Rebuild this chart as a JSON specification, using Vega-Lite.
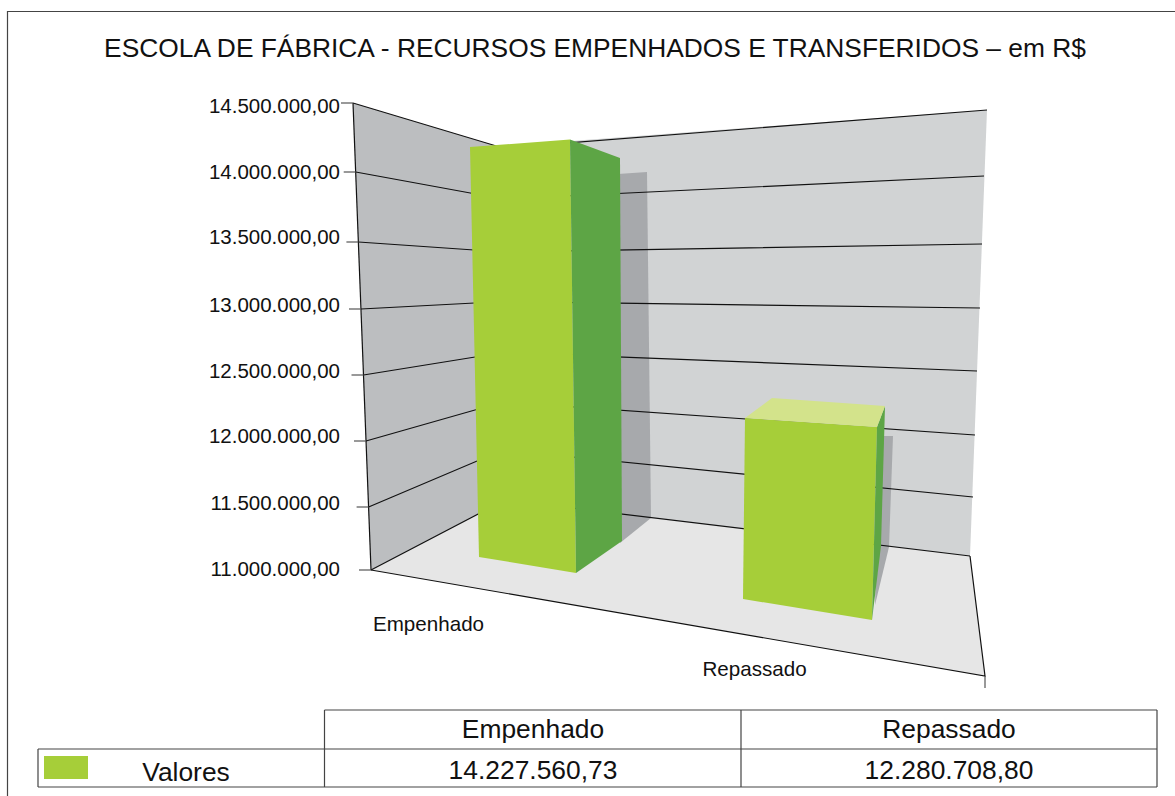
{
"$schema":"https://vega.github.io/schema/vega-lite/v6.json",
"width":1175,"height":796,"padding":0,
"autosize":"none",
"background":"#ffffff",
"config":{"view":{"stroke":null}},
"resolve":{"scale":{"fill":"independent"}},
"datasets":{
"planes":[
{"part":"left wall","seq":1,"x":353,"y":103},{"part":"left wall","seq":2,"x":503,"y":148},{"part":"left wall","seq":3,"x":505,"y":500},{"part":"left wall","seq":4,"x":371,"y":570},
{"part":"back wall","seq":1,"x":503,"y":146},{"part":"back wall","seq":2,"x":987,"y":110},{"part":"back wall","seq":3,"x":970,"y":556},{"part":"back wall","seq":4,"x":505,"y":500},
{"part":"floor","seq":1,"x":371,"y":570},{"part":"floor","seq":2,"x":505,"y":500},{"part":"floor","seq":3,"x":970,"y":556},{"part":"floor","seq":4,"x":985,"y":676}
],
"grid":[
{"level":"14.500.000,00","seq":1,"x":353,"y":103},{"level":"14.500.000,00","seq":2,"x":503,"y":148},{"level":"14.500.000,00","seq":3,"x":987,"y":110},
{"level":"14.000.000,00","seq":1,"x":355.7,"y":172},{"level":"14.000.000,00","seq":2,"x":503,"y":199},{"level":"14.000.000,00","seq":3,"x":984,"y":176},
{"level":"13.500.000,00","seq":1,"x":358.4,"y":242},{"level":"13.500.000,00","seq":2,"x":503,"y":252},{"level":"13.500.000,00","seq":3,"x":982,"y":244},
{"level":"13.000.000,00","seq":1,"x":361,"y":309},{"level":"13.000.000,00","seq":2,"x":503,"y":301.5},{"level":"13.000.000,00","seq":3,"x":980,"y":308},
{"level":"12.500.000,00","seq":1,"x":363.5,"y":375},{"level":"12.500.000,00","seq":2,"x":503,"y":352.5},{"level":"12.500.000,00","seq":3,"x":977,"y":371},
{"level":"12.000.000,00","seq":1,"x":366,"y":441},{"level":"12.000.000,00","seq":2,"x":503,"y":402},{"level":"12.000.000,00","seq":3,"x":975,"y":435},
{"level":"11.500.000,00","seq":1,"x":368.6,"y":507},{"level":"11.500.000,00","seq":2,"x":503,"y":450},{"level":"11.500.000,00","seq":3,"x":973,"y":497},
{"level":"11.000.000,00","seq":1,"x":371,"y":570},{"level":"11.000.000,00","seq":2,"x":505,"y":500},{"level":"11.000.000,00","seq":3,"x":970,"y":556},
{"level":"wall edge","seq":1,"x":353,"y":103},{"level":"wall edge","seq":2,"x":371,"y":570},
{"level":"floor edge","seq":1,"x":371,"y":570},{"level":"floor edge","seq":2,"x":985,"y":676},{"level":"floor edge","seq":3,"x":970,"y":556}
],
"ticks":[
{"level":"a","seq":1,"x":341,"y":103},{"level":"a","seq":2,"x":353,"y":103},
{"level":"b","seq":1,"x":343.7,"y":172},{"level":"b","seq":2,"x":355.7,"y":172},
{"level":"c","seq":1,"x":346.4,"y":242},{"level":"c","seq":2,"x":358.4,"y":242},
{"level":"d","seq":1,"x":349,"y":309},{"level":"d","seq":2,"x":361,"y":309},
{"level":"e","seq":1,"x":351.5,"y":375},{"level":"e","seq":2,"x":363.5,"y":375},
{"level":"f","seq":1,"x":354,"y":441},{"level":"f","seq":2,"x":366,"y":441},
{"level":"g","seq":1,"x":356.6,"y":507},{"level":"g","seq":2,"x":368.6,"y":507},
{"level":"h","seq":1,"x":359,"y":570},{"level":"h","seq":2,"x":371,"y":570},
{"level":"i","seq":1,"x":985,"y":676},{"level":"i","seq":2,"x":985,"y":688}
],
"shadows":[
{"part":"Empenhado shadow","seq":1,"x":618,"y":174},{"part":"Empenhado shadow","seq":2,"x":647,"y":172},{"part":"Empenhado shadow","seq":3,"x":651,"y":518},{"part":"Empenhado shadow","seq":4,"x":620,"y":543},
{"part":"Repassado shadow","seq":1,"x":880,"y":436},{"part":"Repassado shadow","seq":2,"x":893,"y":436},{"part":"Repassado shadow","seq":3,"x":889,"y":547},{"part":"Repassado shadow","seq":4,"x":875,"y":605}
],
"faces":[
{"part":"front","bar":"Empenhado","seq":1,"x":470,"y":147},{"part":"front","bar":"Empenhado","seq":2,"x":570,"y":139.5},{"part":"front","bar":"Empenhado","seq":3,"x":576,"y":573},{"part":"front","bar":"Empenhado","seq":4,"x":479,"y":557},
{"part":"side","bar":"Empenhado","seq":1,"x":570,"y":139.5},{"part":"side","bar":"Empenhado","seq":2,"x":620,"y":158},{"part":"side","bar":"Empenhado","seq":3,"x":622,"y":541},{"part":"side","bar":"Empenhado","seq":4,"x":576,"y":573},
{"part":"front","bar":"Repassado","seq":1,"x":745,"y":418},{"part":"front","bar":"Repassado","seq":2,"x":877,"y":427},{"part":"front","bar":"Repassado","seq":3,"x":872,"y":620},{"part":"front","bar":"Repassado","seq":4,"x":743,"y":599},
{"part":"side","bar":"Repassado","seq":1,"x":877,"y":427},{"part":"side","bar":"Repassado","seq":2,"x":885,"y":406},{"part":"side","bar":"Repassado","seq":3,"x":881,"y":546},{"part":"side","bar":"Repassado","seq":4,"x":872,"y":620},
{"part":"top","bar":"Repassado","seq":1,"x":745,"y":418},{"part":"top","bar":"Repassado","seq":2,"x":772,"y":398},{"part":"top","bar":"Repassado","seq":3,"x":885,"y":406},{"part":"top","bar":"Repassado","seq":4,"x":877,"y":427},
{"part":"front","bar":"Legenda","seq":1,"x":44,"y":756},{"part":"front","bar":"Legenda","seq":2,"x":88,"y":756},{"part":"front","bar":"Legenda","seq":3,"x":88,"y":779},{"part":"front","bar":"Legenda","seq":4,"x":44,"y":779}
],
"frame":[
{"line":"frame","seq":1,"x":1175,"y":11.5},{"line":"frame","seq":2,"x":7.5,"y":11.5},{"line":"frame","seq":3,"x":7.5,"y":796},
{"line":"table top","seq":1,"x":324.5,"y":710},{"line":"table top","seq":2,"x":1157,"y":710},
{"line":"table mid","seq":1,"x":38,"y":749},{"line":"table mid","seq":2,"x":1157,"y":749},
{"line":"table bottom","seq":1,"x":38,"y":787},{"line":"table bottom","seq":2,"x":1157,"y":787},
{"line":"col 0","seq":1,"x":38,"y":749},{"line":"col 0","seq":2,"x":38,"y":787},
{"line":"col 1","seq":1,"x":324.5,"y":710},{"line":"col 1","seq":2,"x":324.5,"y":787},
{"line":"col 2","seq":1,"x":741,"y":710},{"line":"col 2","seq":2,"x":741,"y":787},
{"line":"col 3","seq":1,"x":1157,"y":710},{"line":"col 3","seq":2,"x":1157,"y":787}
],
"axisText":[
{"label":"14.500.000,00","x":340,"y":113},{"label":"14.000.000,00","x":340,"y":179},{"label":"13.500.000,00","x":340,"y":244},{"label":"13.000.000,00","x":340,"y":312},{"label":"12.500.000,00","x":340,"y":378},{"label":"12.000.000,00","x":340,"y":443},{"label":"11.500.000,00","x":340,"y":510},{"label":"11.000.000,00","x":340,"y":576}
],
"catText":[{"label":"Empenhado","x":428.5,"y":631},{"label":"Repassado","x":754.5,"y":676}],
"tableText":[
{"label":"Empenhado","x":533,"y":738},{"label":"Repassado","x":949,"y":738},
{"label":"14.227.560,73","x":533,"y":779},{"label":"12.280.708,80","x":949,"y":779},{"label":"Valores","x":186,"y":781}
],
"titleText":[{"label":"ESCOLA DE FÁBRICA - RECURSOS EMPENHADOS E TRANSFERIDOS – em R$","x":595,"y":57}]
},
"encoding":{
"x":{"field":"x","type":"quantitative","axis":null,"scale":{"domain":[0,1175],"nice":false,"zero":false}},
"y":{"field":"y","type":"quantitative","axis":null,"scale":{"domain":[796,0],"nice":false,"zero":false}}
},
"layer":[
{"data":{"name":"planes"},"mark":{"type":"line","strokeOpacity":0},
 "encoding":{"order":{"field":"seq"},"detail":{"field":"part"},"fill":{"field":"part","legend":null,"scale":{"domain":["left wall","back wall","floor"],"range":["#bcbec0","#d1d3d4","#e6e6e6"]}}}},
{"data":{"name":"shadows"},"mark":{"type":"line","strokeOpacity":0},
 "encoding":{"order":{"field":"seq"},"detail":{"field":"part"},"fill":{"field":"part","legend":null,"scale":{"domain":["Empenhado shadow","Repassado shadow"],"range":["#a7a9ac","#a7a9ac"]}}}},
{"data":{"name":"grid"},"mark":{"type":"line","stroke":"#111111","strokeWidth":1.2},
 "encoding":{"order":{"field":"seq"},"detail":{"field":"level"}}},
{"data":{"name":"ticks"},"mark":{"type":"line","stroke":"#555555","strokeWidth":1.2},
 "encoding":{"order":{"field":"seq"},"detail":{"field":"level"}}},
{"data":{"name":"faces"},"transform":[{"calculate":"datum.bar+' '+datum.part","as":"face"}],"mark":{"type":"line","strokeOpacity":0},
 "encoding":{"order":{"field":"seq"},"detail":{"field":"face"},"fill":{"field":"part","legend":null,"scale":{"domain":["front","side","top"],"range":["#a6ce39","#5da545","#d3e38b"]}}}},
{"data":{"name":"frame"},"mark":{"type":"line","stroke":"#444444","strokeWidth":1.2},
 "encoding":{"order":{"field":"seq"},"detail":{"field":"line"}}},
{"data":{"name":"axisText"},"mark":{"type":"text","font":"Liberation Sans","fontSize":20.5,"align":"right","baseline":"alphabetic","fill":"#111111"},"encoding":{"text":{"field":"label"}}},
{"data":{"name":"catText"},"mark":{"type":"text","font":"Liberation Sans","fontSize":20.6,"align":"center","baseline":"alphabetic","fill":"#111111"},"encoding":{"text":{"field":"label"}}},
{"data":{"name":"tableText"},"mark":{"type":"text","font":"Liberation Sans","fontSize":26.4,"align":"center","baseline":"alphabetic","fill":"#111111"},"encoding":{"text":{"field":"label"}}},
{"data":{"name":"titleText"},"mark":{"type":"text","font":"Liberation Sans","fontSize":26.35,"align":"center","baseline":"alphabetic","fill":"#111111"},"encoding":{"text":{"field":"label"}}}
]
}
